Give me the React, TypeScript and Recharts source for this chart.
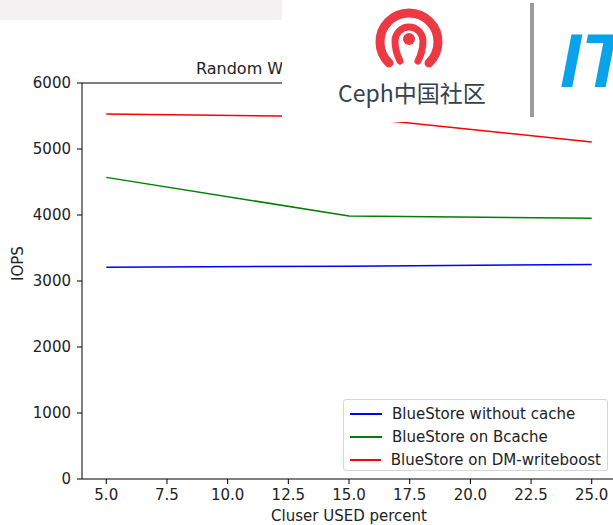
import { LineChart, Line, XAxis, YAxis, ReferenceLine } from 'recharts';

const usedPercent = [5, 15, 25];
const noCache = [3210, 3225, 3250];
const bcache = [4570, 3985, 3950];
const dmWriteboost = [5530, 5490, 5105];

const xTicks = [5, 7.5, 10, 12.5, 15, 17.5, 20, 22.5, 25];
const yTicks = [0, 1000, 2000, 3000, 4000, 5000, 6000];

const series = [
  { key: 'noCache', name: 'BlueStore without cache', color: '#0000ff' },
  { key: 'bcache', name: 'BlueStore on Bcache', color: '#008000' },
  { key: 'dmWriteboost', name: 'BlueStore on DM-writeboost', color: '#ff0000' },
];

const data = usedPercent.map((x, i) => ({
  x,
  noCache: noCache[i],
  bcache: bcache[i],
  dmWriteboost: dmWriteboost[i],
}));

const font = '"DejaVu Sans", sans-serif';

const LegendBox = () => (
  <div
    style={{
      position: 'absolute',
      left: 343,
      top: 399,
      width: 265,
      height: 72,
      boxSizing: 'border-box',
      border: '1px solid #d6d6d6',
      borderRadius: 3,
      background: 'rgba(255,255,255,0.8)',
      padding: '2px 6px',
      fontFamily: font,
      fontSize: 15,
      color: '#222',
    }}
  >
    {series.map((s) => (
      <div key={s.key} style={{ display: 'flex', alignItems: 'center', height: 23, whiteSpace: 'nowrap' }}>
        <div style={{ width: 32, height: 2, background: s.color, marginRight: 10 }} />
        <span>{s.name}</span>
      </div>
    ))}
  </div>
);

// watermark in the top right corner
const Watermark = () => (
  <div
    style={{
      position: 'absolute',
      left: 282,
      top: 0,
      width: 331,
      height: 122,
      background: '#fff',
      overflow: 'hidden',
    }}
  >
    <svg width={331} height={122}>
      <g transform="translate(127,39)" fill="none" stroke="#ec3a44" strokeLinecap="round">
        <path d="M -20 24 A 29 29 0 1 1 20 24" strokeWidth={9} />
        <path d="M -9 22 Q -14 12 -14 2 A 14 14 0 1 1 14 2 Q 14 12 9 22" strokeWidth={7} />
        <circle cx={0} cy={0} r={6} fill="#ec3a44" stroke="none" />
      </g>
      <text x={56} y={102} fontFamily='"Noto Sans CJK SC", sans-serif' fontSize={23} fill="#34414f">
        Ceph中国社区
      </text>
      <rect x={248} y={3} width={4} height={114} fill="#9b9b9b" />
      <text
        x={278}
        y={87}
        fontFamily='"Liberation Sans", sans-serif'
        fontSize={76}
        fontWeight="bold"
        fontStyle="italic"
        fill="#0aa2e8"
      >
        IT
      </text>
    </svg>
  </div>
);

export default function App() {
  return (
    <div style={{ position: 'absolute', left: 0, top: 0, width: 613, height: 525, background: '#fff' }}>
      <div style={{ position: 'absolute', left: 0, top: 0, width: 282, height: 20, background: '#f3f1f1' }} />
      <LineChart width={613} height={525} data={data} margin={{ top: 83, right: -3, bottom: 0, left: 0 }}>
        <XAxis
          dataKey="x"
          type="number"
          domain={[4, 26]}
          ticks={xTicks}
          tickFormatter={(v) => v.toFixed(1)}
          interval={0}
          height={46}
          tickSize={5}
          tickMargin={5}
          stroke="#000"
          tick={{ fill: '#222', fontSize: 15, fontFamily: font }}
          label={{ value: 'Cluser USED percent', position: 'insideBottom', offset: 4, fill: '#222', fontSize: 15, fontFamily: font }}
        />
        <YAxis
          type="number"
          domain={[0, 6000]}
          ticks={yTicks}
          interval={0}
          width={82}
          tickSize={5}
          tickMargin={6}
          stroke="#000"
          tick={{ fill: '#222', fontSize: 15, fontFamily: font }}
          label={{ value: 'IOPS', angle: -90, position: 'insideLeft', offset: 18, fill: '#222', fontSize: 15, fontFamily: font }}
        />
        <ReferenceLine y={6000} stroke="#000" />
        {series.map((s) => (
          <Line
            key={s.key}
            dataKey={s.key}
            name={s.name}
            type="linear"
            stroke={s.color}
            strokeWidth={1.5}
            dot={false}
            activeDot={false}
            isAnimationActive={false}
          />
        ))}
        <text x={196} y={74} fontFamily={font} fontSize={16} fill="#222">
          Random Write IOPS under cache
        </text>
      </LineChart>
      <LegendBox />
      <Watermark />
    </div>
  );
}
